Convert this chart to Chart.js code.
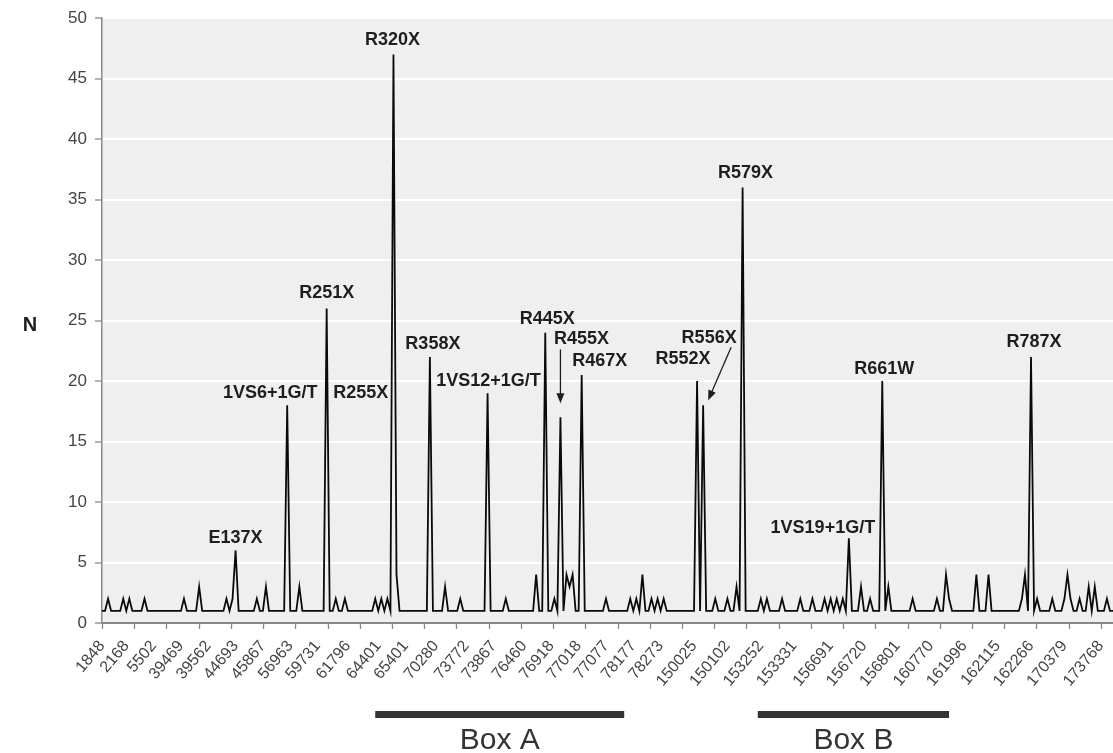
<!DOCTYPE html>
<html>
<head>
<meta charset="utf-8">
<script src="https://cdn.jsdelivr.net/npm/chart.js@4.4.1/dist/chart.umd.min.js"></script>
<style>
  body { margin: 0; background: #fff; }
  canvas { display: block; }
</style>
</head>
<body>
<canvas id="myChart" width="1113" height="753"></canvas>
<script>
// axis labels and the point each one sits under
const tickLabels = ['1848', '2168', '5502', '39469', '39562', '44693', '45867', '56963', '59731', '61796',
    '64401', '65401', '70280', '73772', '73867', '76460', '76918', '77018', '77077', '78177',
    '78273', '150025', '150102', '153252', '153331', '156691', '156720', '156801', '160770', '161996',
    '162115', '162266', '170379', '173768'];
const labelAt = [0, 8, 17, 26, 35, 44, 53, 62, 71, 81,
    91, 100, 110, 120, 129, 139, 148, 157, 166, 175,
    184, 195, 206, 217, 228, 240, 251, 262, 273, 284,
    295, 306, 317, 329];
const tickCount = 32; // evenly spaced tick marks on the x axis

// N per position
const counts = [
    1, 1, 2, 1, 1, 1, 1, 2, 1, 2,
    1, 1, 1, 1, 2, 1, 1, 1, 1, 1,
    1, 1, 1, 1, 1, 1, 1, 2, 1, 1,
    1, 1, 3, 1, 1, 1, 1, 1, 1, 1,
    1, 2, 1, 2, 6, 1, 1, 1, 1, 1,
    1, 2, 1, 1, 3, 1, 1, 1, 1, 1,
    1, 18, 1, 1, 1, 3, 1, 1, 1, 1,
    1, 1, 1, 1, 26, 1, 1, 2, 1, 1,
    2, 1, 1, 1, 1, 1, 1, 1, 1, 1,
    2, 1, 2, 1, 2, 1, 47, 4, 1, 1,
    1, 1, 1, 1, 1, 1, 1, 1, 22, 1,
    1, 1, 1, 3, 1, 1, 1, 1, 2, 1,
    1, 1, 1, 1, 1, 1, 1, 19, 1, 1,
    1, 1, 1, 2, 1, 1, 1, 1, 1, 1,
    1, 1, 1, 4, 1, 1, 24, 1, 1, 2,
    1, 17, 1, 4, 3, 4, 1, 1, 20.5, 1,
    1, 1, 1, 1, 1, 1, 2, 1, 1, 1,
    1, 1, 1, 1, 2, 1, 2, 1, 4, 1,
    1, 2, 1, 2, 1, 2, 1, 1, 1, 1,
    1, 1, 1, 1, 1, 1, 20, 1, 18, 1,
    1, 1, 2, 1, 1, 1, 2, 1, 1, 3,
    1, 36, 1, 1, 1, 1, 1, 2, 1, 2,
    1, 1, 1, 1, 2, 1, 1, 1, 1, 1,
    2, 1, 1, 1, 2, 1, 1, 1, 2, 1,
    2, 1, 2, 1, 2, 1, 7, 1, 1, 1,
    3, 1, 1, 2, 1, 1, 1, 20, 1, 3,
    1, 1, 1, 1, 1, 1, 1, 2, 1, 1,
    1, 1, 1, 1, 1, 2, 1, 1, 4, 2,
    1, 1, 1, 1, 1, 1, 1, 1, 4, 1,
    1, 1, 4, 1, 1, 1, 1, 1, 1, 1,
    1, 1, 1, 2, 4, 1, 22, 1, 2, 1,
    1, 1, 1, 2, 1, 1, 1, 2, 4, 2,
    1, 1, 2, 1, 1, 3, 1, 3, 1, 1,
    1, 2, 1, 1
];

// mutation names: [text, point index, dx, dy from the peak top]
const notes = [
    ['E137X', 44, 0, -12],
    ['1VS6+1G/T', 61, -17, -12],
    ['R251X', 74, 0, -15],
    ['R255X', 74, 34, 85],
    ['R320X', 96, -1, -14],
    ['R358X', 108, 3, -13],
    ['1VS12+1G/T', 127, 1, -12],
    ['R445X', 146, 2, -14],
    ['R455X', 151, 21, -78],
    ['R467X', 158, 18, -14],
    ['R552X', 196, -14, -22],
    ['R556X', 198, 6, -67],
    ['R579X', 211, 3, -15],
    ['1VS19+1G/T', 246, -26, -10],
    ['R661W', 257, 2, -12],
    ['R787X', 306, 3, -15]
];
// arrows: [point index, x1, y1, x2, y2 relative to the peak top]
const arrows = [
    [151, 0, -68, 0, -14],
    [198, 28, -58, 5, -5]
];
// boxes under the axis: [text, first index, last index]
const boxes = [
    ['Box A', 90, 172],
    ['Box B', 216, 279]
];

const extras = {
    id: 'extras',
    beforeDraw(chart) {
        const { ctx, chartArea } = chart;
        ctx.save();
        ctx.fillStyle = '#efefef';
        ctx.fillRect(chartArea.left, chartArea.top, chartArea.right - chartArea.left, chartArea.bottom - chartArea.top);
        ctx.restore();
    },
    afterDraw(chart) {
        const ctx = chart.ctx;
        const xs = chart.scales.x;
        const ys = chart.scales.y;
        const peak = i => [xs.getPixelForValue(i), ys.getPixelForValue(counts[i])];

        ctx.save();
        // x tick marks (not tied to the labels, like the original)
        ctx.strokeStyle = '#888';
        ctx.lineWidth = 1.3;
        const lastTick = labelAt[labelAt.length - 1];
        for (let k = 0; k < tickCount; k++) {
            const x = Math.round(xs.getPixelForValue(k * lastTick / (tickCount - 1))) + 0.5;
            ctx.beginPath();
            ctx.moveTo(x, xs.top);
            ctx.lineTo(x, xs.top + 6);
            ctx.stroke();
        }

        ctx.fillStyle = '#1e1e1e';
        ctx.font = 'bold 18px "Liberation Sans", Arial, sans-serif';
        ctx.textAlign = 'center';
        ctx.textBaseline = 'middle';
        notes.forEach(n => {
            const p = peak(n[1]);
            ctx.fillText(n[0], p[0] + n[2], p[1] + n[3]);
        });

        ctx.strokeStyle = '#1e1e1e';
        arrows.forEach(a => {
            const p = peak(a[0]);
            const x1 = p[0] + a[1], y1 = p[1] + a[2];
            const x2 = p[0] + a[3], y2 = p[1] + a[4];
            const ang = Math.atan2(y2 - y1, x2 - x1);
            ctx.beginPath();
            ctx.moveTo(x1, y1);
            ctx.lineTo(x2 - 6 * Math.cos(ang), y2 - 6 * Math.sin(ang));
            ctx.stroke();
            ctx.beginPath();
            ctx.moveTo(x2, y2);
            ctx.lineTo(x2 - 10 * Math.cos(ang) + 4 * Math.sin(ang), y2 - 10 * Math.sin(ang) - 4 * Math.cos(ang));
            ctx.lineTo(x2 - 10 * Math.cos(ang) - 4 * Math.sin(ang), y2 - 10 * Math.sin(ang) + 4 * Math.cos(ang));
            ctx.closePath();
            ctx.fill();
        });

        // y title, upright
        ctx.font = 'bold 20px "Liberation Sans", Arial, sans-serif';
        ctx.fillText('N', 30, 325);

        // Box A / Box B
        boxes.forEach(b => {
            const x1 = xs.getPixelForValue(b[1]);
            const x2 = xs.getPixelForValue(b[2]);
            ctx.fillStyle = '#333';
            ctx.fillRect(x1, 711, x2 - x1, 7);
            ctx.font = '30px "Liberation Sans", Arial, sans-serif';
            ctx.fillText(b[0], (x1 + x2) / 2, 741);
        });
        ctx.restore();
    }
};

new Chart('myChart', {
    type: 'line',
    data: {
        labels: counts.map((c, i) => i),
        datasets: [{
            data: counts,
            borderColor: '#0a0a0a',
            borderWidth: 1.8,
            pointRadius: 0,
            tension: 0,
            fill: false
        }]
    },
    options: {
        responsive: false,
        animation: false,
        devicePixelRatio: 1,
        layout: { padding: { top: 17, right: 0, left: 0, bottom: 0 } },
        plugins: {
            legend: { display: false },
            tooltip: { enabled: false }
        },
        scales: {
            x: {
                afterFit: s => { s.height = 130; s.paddingRight = 0; },
                grid: { display: false },
                border: { color: '#888', width: 1.5 },
                ticks: {
                    autoSkip: false,
                    minRotation: 50,
                    maxRotation: 50,
                    padding: 6,
                    color: '#444',
                    font: { family: '"Liberation Sans", Arial, sans-serif', size: 16 },
                    callback: (v, i) => {
                        const k = labelAt.indexOf(i);
                        return k >= 0 ? tickLabels[k] : null;
                    }
                }
            },
            y: {
                min: 0,
                max: 50,
                afterFit: s => { s.width = 102; },
                grid: {
                    color: c => (c.tick.value === 0 ? '#888' : '#fff'),
                    lineWidth: 2,
                    tickColor: '#888',
                    tickLength: 7,
                    tickWidth: 1.3
                },
                border: { color: '#888', width: 1.5 },
                ticks: {
                    stepSize: 5,
                    padding: 8,
                    color: '#444',
                    font: { family: '"Liberation Sans", Arial, sans-serif', size: 17 }
                }
            }
        }
    },
    plugins: [extras]
});
</script>
</body>
</html>
